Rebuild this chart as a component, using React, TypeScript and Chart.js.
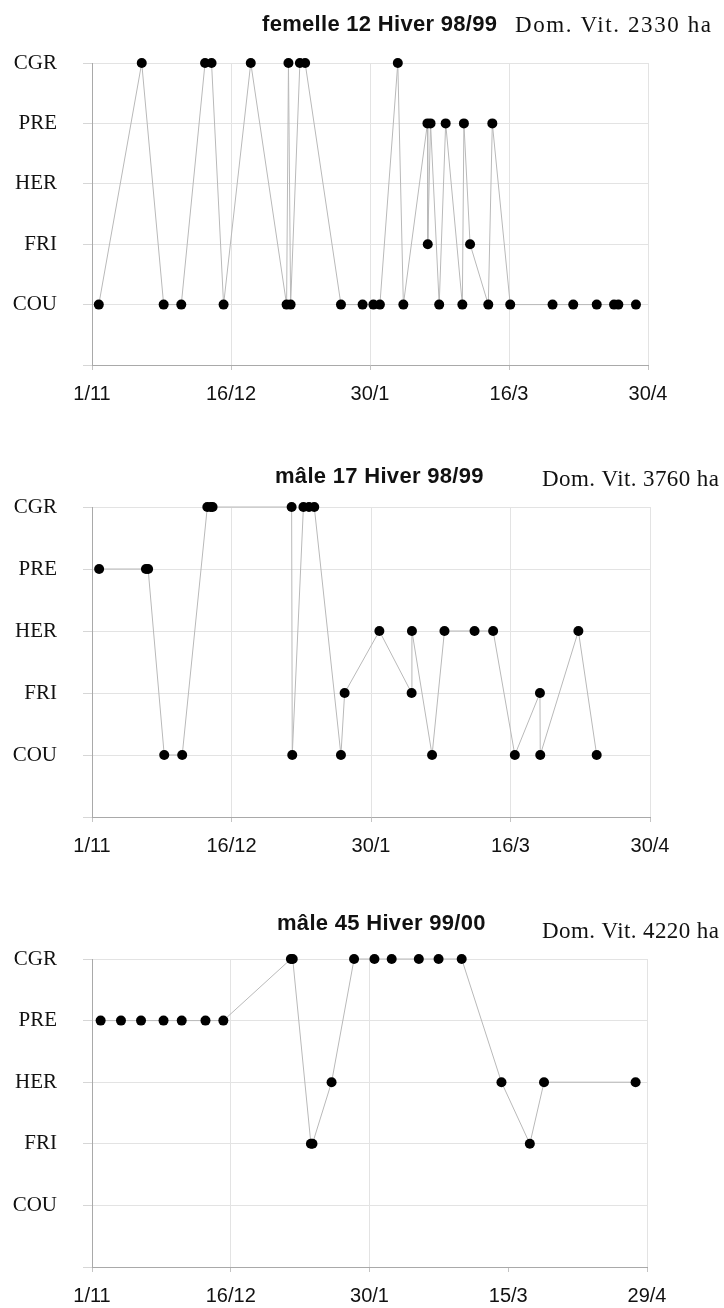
import React, { useEffect, useRef } from 'react';
import { Chart, registerables } from 'chart.js';

Chart.register(...registerables);

// ---- categories (y) ----
const STATES = ['COU', 'FRI', 'HER', 'PRE', 'CGR'];

// ---- x tick labels (days since 1/11, every 45 days) ----
const TICK_DAYS = [0, 45, 90, 135, 180];
const TICKS_9899 = ['1/11', '16/12', '30/1', '16/3', '30/4'];
const TICKS_9900 = ['1/11', '16/12', '30/1', '15/3', '29/4'];

// ---- femelle 12, Hiver 98/99 ----
const f12Days = [2.2, 16.1, 23.2, 28.9, 36.6, 38.7, 42.6, 51.4, 63.0, 63.6, 64.3, 67.3, 69.0, 80.6, 87.6, 91.1, 93.2, 99.0, 100.8, 108.6, 108.7, 109.6, 112.4, 114.5, 119.9, 120.4, 122.4, 128.3, 129.6, 135.4, 149.1, 155.8, 163.4, 169.0, 170.4, 176.1];
const f12States = ['COU', 'CGR', 'COU', 'COU', 'CGR', 'CGR', 'COU', 'CGR', 'COU', 'CGR', 'COU', 'CGR', 'CGR', 'COU', 'COU', 'COU', 'COU', 'CGR', 'COU', 'PRE', 'FRI', 'PRE', 'COU', 'PRE', 'COU', 'PRE', 'FRI', 'COU', 'PRE', 'COU', 'COU', 'COU', 'COU', 'COU', 'COU', 'COU'];

// ---- mâle 17, Hiver 98/99 ----
const m17Days = [2.3, 17.4, 18.1, 23.3, 29.1, 37.2, 38.3, 38.9, 64.4, 64.6, 68.2, 70.0, 71.7, 80.3, 81.5, 92.7, 103.1, 103.2, 109.7, 113.7, 123.4, 129.4, 136.4, 144.5, 144.6, 156.9, 162.8];
const m17States = ['PRE', 'PRE', 'PRE', 'COU', 'COU', 'CGR', 'CGR', 'CGR', 'CGR', 'COU', 'CGR', 'CGR', 'CGR', 'COU', 'FRI', 'HER', 'FRI', 'HER', 'COU', 'HER', 'HER', 'HER', 'COU', 'FRI', 'COU', 'HER', 'COU'];

// ---- mâle 45, Hiver 99/00 ----
const m45Days = [2.8, 9.4, 15.9, 23.2, 29.1, 36.8, 42.6, 64.5, 65.1, 71.0, 71.5, 77.7, 85.0, 91.6, 97.2, 106.0, 112.4, 119.9, 132.8, 142.0, 146.6, 176.3];
const m45States = ['PRE', 'PRE', 'PRE', 'PRE', 'PRE', 'PRE', 'PRE', 'CGR', 'CGR', 'FRI', 'FRI', 'HER', 'CGR', 'CGR', 'CGR', 'CGR', 'CGR', 'CGR', 'HER', 'FRI', 'HER', 'HER'];

// ---- titles ----
const TITLES = ['femelle 12 Hiver 98/99', 'mâle 17 Hiver 98/99', 'mâle 45 Hiver 99/00'];
const AREAS = ['Dom. Vit. 2330 ha', 'Dom. Vit. 3760 ha', 'Dom. Vit. 4220 ha'];

type Panel = {
  title: string;
  area: string;
  days: number[];
  states: string[];
  ticks: string[];
  top: number;
  height: number;
  padTop: number;
  padRight: number;
  titleX: number;
  titleY: number;
  areaX: number;
  areaY: number;
  areaSpacing: number;
  hideGridAt: number[];
};

const PANELS: Panel[] = [
  { title: TITLES[0], area: AREAS[0], days: f12Days, states: f12States, ticks: TICKS_9899, top: 0, height: 405, padTop: 63, padRight: 76, titleX: 262, titleY: 31, areaX: 515, areaY: 31.5, areaSpacing: 1.6, hideGridAt: [] },
  { title: TITLES[1], area: AREAS[1], days: m17Days, states: m17States, ticks: TICKS_9899, top: 420, height: 437, padTop: 87, padRight: 74, titleX: 275, titleY: 62.5, areaX: 542, areaY: 66, areaSpacing: 0.4, hideGridAt: [] },
  { title: TITLES[2], area: AREAS[2], days: m45Days, states: m45States, ticks: TICKS_9900, top: 870, height: 437, padTop: 89, padRight: 77, titleX: 277, titleY: 60, areaX: 542, areaY: 68, areaSpacing: 0.4, hideGridAt: [135] },
];

const headerPlugin = {
  id: 'header',
  afterDraw(chart: any, _args: any, opts: any) {
    const ctx = chart.ctx as CanvasRenderingContext2D;
    ctx.save();
    ctx.fillStyle = '#111';
    ctx.textAlign = 'left';
    ctx.textBaseline = 'alphabetic';
    ctx.font = 'bold 22px "Liberation Sans", Arial, sans-serif';
    (ctx as any).letterSpacing = '0.3px';
    ctx.fillText(opts.title, opts.titleX, opts.titleY);
    ctx.font = '23px "Liberation Serif", "Times New Roman", serif';
    (ctx as any).letterSpacing = opts.areaSpacing + 'px';
    ctx.fillText(opts.area, opts.areaX, opts.areaY);
    ctx.restore();
  },
};

function PanelChart({ p }: { p: Panel }) {
  const ref = useRef<HTMLCanvasElement | null>(null);
  useEffect(() => {
    if (!ref.current) return;
    const data = p.days.map((d, i) => ({ x: d, y: STATES.indexOf(p.states[i]) }));
    const chart = new Chart(ref.current, {
      type: 'line',
      data: {
        datasets: [
          {
            data,
            borderColor: '#b9b9b9',
            borderWidth: 1,
            pointRadius: 5,
            pointHoverRadius: 5,
            pointBackgroundColor: '#000',
            pointBorderColor: '#000',
            pointBorderWidth: 0,
            tension: 0,
            fill: false,
            clip: false,
          },
        ],
      },
      plugins: [headerPlugin],
      options: {
        animation: false,
        responsive: false,
        devicePixelRatio: 1,
        events: [],
        layout: { padding: { top: p.padTop, right: p.padRight, left: 0, bottom: 0 } },
        plugins: {
          legend: { display: false },
          tooltip: { enabled: false },
          title: { display: false },
          header: { title: p.title, area: p.area, titleX: p.titleX, titleY: p.titleY, areaX: p.areaX, areaY: p.areaY, areaSpacing: p.areaSpacing },
        } as any,
        scales: {
          x: {
            type: 'linear',
            min: 0,
            max: 180,
            afterBuildTicks: (s: any) => {
              s.ticks = TICK_DAYS.map((v) => ({ value: v }));
            },
            afterFit: (s: any) => {
              s.height = 40;
            },
            ticks: {
              autoSkip: false,
              maxRotation: 0,
              padding: 12,
              color: '#111',
              font: { family: '"Liberation Sans", Arial, sans-serif', size: 20 },
              callback: (v: any) => {
                const i = TICK_DAYS.indexOf(Number(v));
                return i >= 0 ? p.ticks[i] : '';
              },
            },
            grid: {
              color: (c: any) => (c.tick && p.hideGridAt.includes(c.tick.value) ? 'rgba(0,0,0,0)' : '#e3e3e3'),
              tickColor: '#c4c4c4',
              tickLength: 5,
              lineWidth: 1,
            },
            border: { color: '#a9a9a9', width: 1 },
          },
          y: {
            type: 'linear',
            min: -1,
            max: 4,
            afterBuildTicks: (s: any) => {
              s.ticks = [-1, 0, 1, 2, 3, 4].map((v) => ({ value: v }));
            },
            afterFit: (s: any) => {
              s.width = 92;
            },
            ticks: {
              autoSkip: false,
              padding: 26,
              color: '#111',
              font: { family: '"Liberation Serif", "Times New Roman", serif', size: 21 },
              callback: (v: any) => {
                const n = Number(v);
                return n >= 0 && n < STATES.length ? STATES[n] : '';
              },
            },
            grid: {
              color: '#e3e3e3',
              tickColor: '#d6d6d6',
              tickLength: 9,
              lineWidth: 1,
            },
            border: { color: '#a9a9a9', width: 1 },
          },
        },
      },
    } as any);
    return () => chart.destroy();
  }, [p]);
  return (
    <canvas
      ref={ref}
      width={724}
      height={p.height}
      style={{ position: 'absolute', left: 0, top: p.top, width: 724, height: p.height, display: 'block' }}
    />
  );
}

export default function App() {
  return (
    <div style={{ position: 'absolute', left: 0, top: 0, width: 724, height: 1308, background: '#fff', overflow: 'hidden' }}>
      {PANELS.map((p, i) => (
        <PanelChart key={i} p={p} />
      ))}
    </div>
  );
}
